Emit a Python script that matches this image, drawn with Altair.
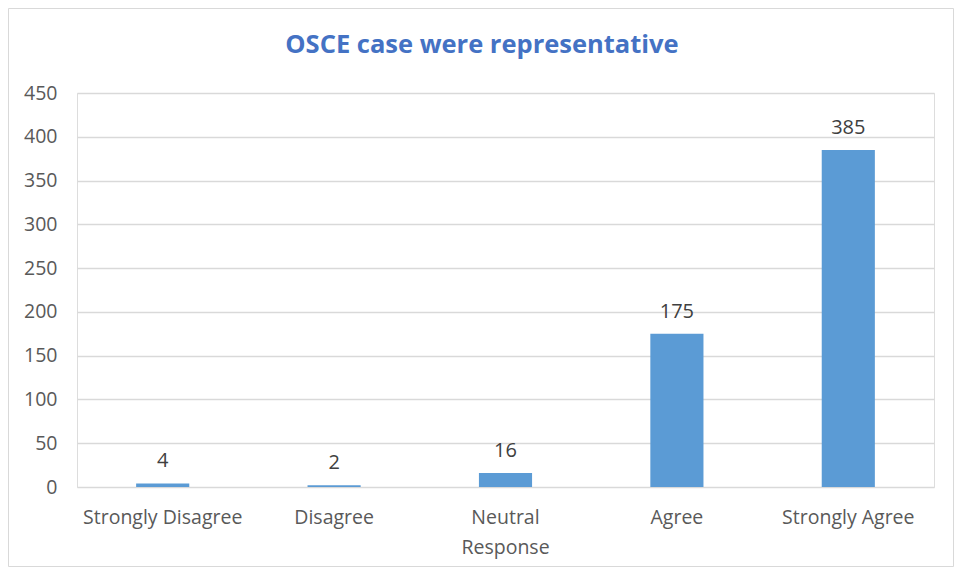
import altair as alt
import pandas as pd

categories = ["Strongly Disagree", "Disagree", "Neutral Response", "Agree", "Strongly Agree"]
values = [4, 2, 16, 175, 385]
title_text = ["OSCE case were representative"]

df = pd.DataFrame({"category": categories, "count": values})

FONT = "Open Sans"
W, H = 857, 394
PL, PT, PR, PB = 69, 85, 20, 80

x_enc = alt.X(
    "category:N",
    sort=categories,
    scale=alt.Scale(paddingInner=0.69, paddingOuter=0.345),
    axis=alt.Axis(
        title=None,
        labelAngle=0,
        labelFont=FONT,
        labelFontSize=19.5,
        labelColor="#595959",
        labelPadding=21,
        ticks=False,
        domain=False,
        grid=False,
        labelLineHeight=30,
        labelExpr="datum.value == 'Neutral Response' ? ['Neutral', 'Response'] : datum.value",
    ),
)
y_enc = alt.Y(
    "count:Q",
    scale=alt.Scale(domain=[0, 450], nice=False),
    axis=alt.Axis(
        title=None,
        values=list(range(0, 451, 50)),
        labelFont=FONT,
        labelFontSize=19.5,
        labelColor="#595959",
        labelPadding=20,
        ticks=False,
        domain=False,
        gridColor="#D9D9D9",
        gridWidth=1.5,
    ),
)

base = alt.Chart(df)
bars = base.mark_bar(color="#5B9BD5").encode(x=x_enc, y=y_enc)
labels = base.mark_text(
    font=FONT, fontSize=20, color="#404040", baseline="bottom", dy=-12
).encode(x=alt.X("category:N", sort=categories), y="count:Q", text="count:Q")

border = alt.Chart(alt.Data(values=[{"a": 1}])).mark_rect(
    fillOpacity=0, stroke="#D9D9D9", strokeWidth=1
).encode(
    x=alt.value(-PL + 0.5),
    x2=alt.value(W + PR - 0.5),
    y=alt.value(-PT + 0.5),
    y2=alt.value(H + PB - 0.5),
)

title = alt.Chart(alt.Data(values=[{"t": t} for t in title_text])).mark_text(
    font=FONT, fontSize=25.5, fontWeight="bold", color="#4472C4",
    align="center", baseline="middle",
).encode(
    text="t:N",
    x=alt.value(482 - 77),
    y=alt.value(45 - 93),
)

chart = alt.layer(border, bars, labels, title).properties(
    width=W,
    height=H,
    autosize=alt.AutoSizeParams(type="none"),
    padding={"left": PL, "top": PT, "right": PR, "bottom": PB},
).configure_view(stroke=None).configure(background="white")

chart.save("out.html", embed_options={"renderer": "svg", "actions": False})
